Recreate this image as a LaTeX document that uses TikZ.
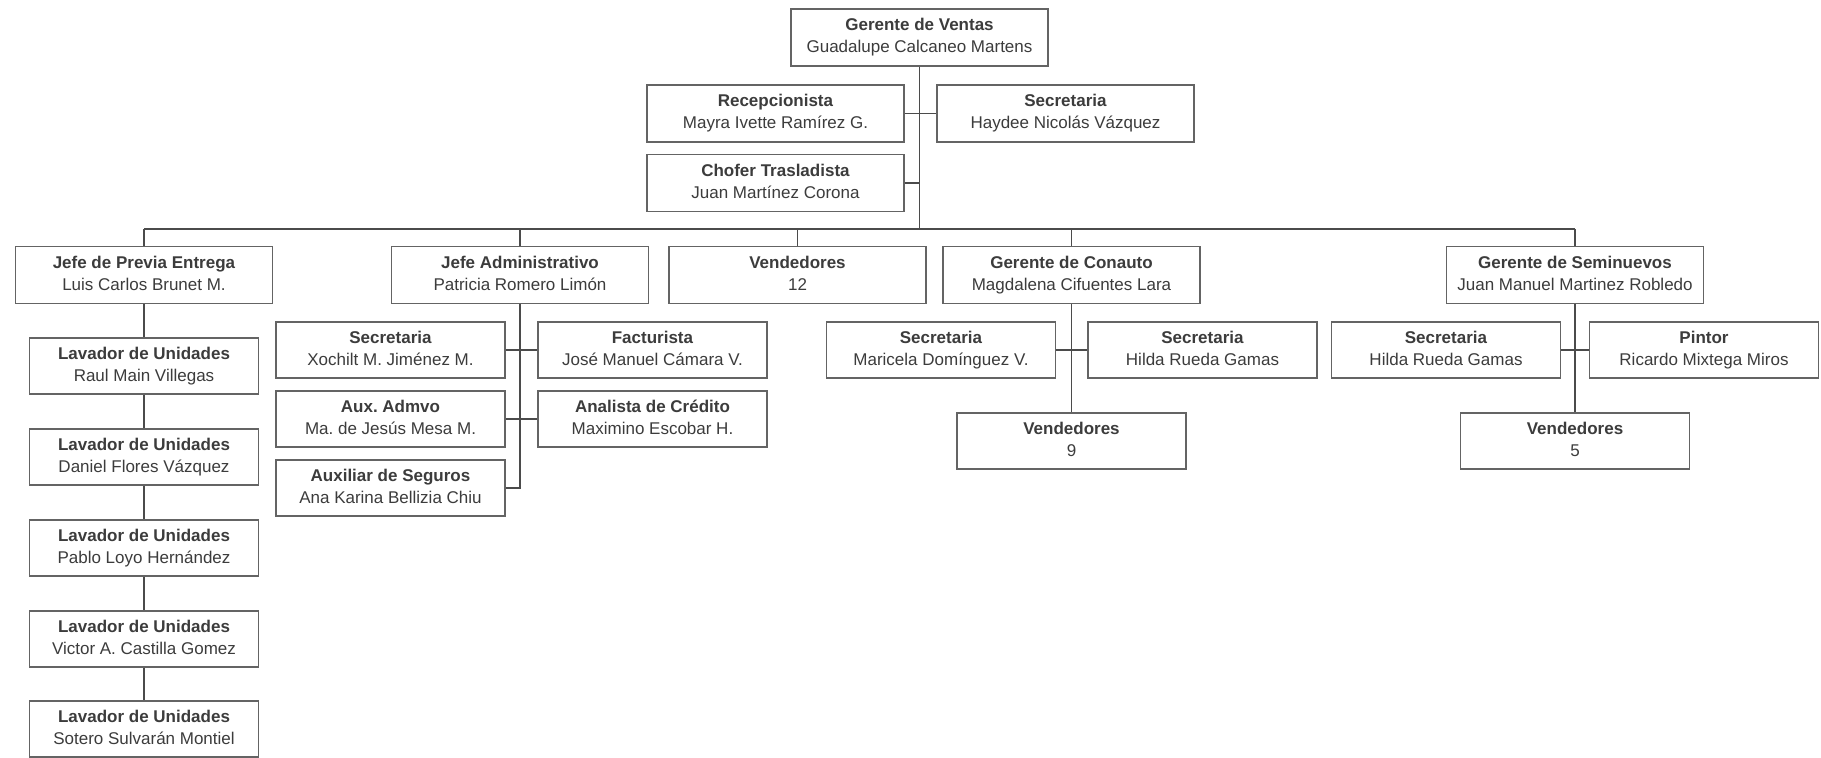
\documentclass[tikz,border=0pt]{standalone}
\usepackage{fontspec}
\setmainfont{Liberation Sans}
\frenchspacing
\definecolor{boxc}{RGB}{100,100,100}
\definecolor{linec}{RGB}{75,75,75}
\definecolor{txt}{RGB}{60,60,60}
\tikzset{
  box/.style={draw=boxc, line width=0.9pt, fill=white, minimum width=128.5pt,
    minimum height=28.5pt, align=center, inner sep=0pt, text=txt,
    font=\fontsize{8.5}{11}\selectfont},
  sub/.style={box, minimum width=114.5pt, minimum height=28pt},
  conn/.style={draw=linec, line width=0.8pt},
}
\newcommand{\ent}[2]{\textbf{#1}\rule{0pt}{6.5pt}\\#2\rule[-2pt]{0pt}{2pt}}
\begin{document}
\begin{tikzpicture}[x=0.5pt,y=-0.5pt]
\useasboundingbox (0,0) rectangle (1821,758);
% top
\node[box] (gv)  at (919.5,37.5) {\ent{Gerente de Ventas}{Guadalupe Calcaneo Martens}};
\node[box] (rec) at (775.5,113.5) {\ent{Recepcionista}{Mayra Ivette Ramírez G.}};
\node[box] (sec) at (1065.5,113.5){\ent{Secretaria}{Haydee Nicolás Vázquez}};
\node[box] (cho) at (775.5,183)  {\ent{Chofer Trasladista}{Juan Martínez Corona}};
% level 2
\node[box] (jpe) at (144,275)    {\ent{Jefe de Previa Entrega}{Luis Carlos Brunet M.}};
\node[box] (ja)  at (520,275)    {\ent{Jefe Administrativo}{Patricia Romero Limón}};
\node[box] (v12) at (797.5,275)  {\ent{Vendedores}{12}};
\node[box] (gc)  at (1071.5,275) {\ent{Gerente de Conauto}{Magdalena Cifuentes Lara}};
\node[box] (gs)  at (1575,275)   {\ent{Gerente de Seminuevos}{Juan Manuel Martinez Robledo}};
% lavadores
\node[sub] (l1) at (144,366) {\ent{Lavador de Unidades}{Raul Main Villegas}};
\node[sub] (l2) at (144,457) {\ent{Lavador de Unidades}{Daniel Flores Vázquez}};
\node[sub] (l3) at (144,548) {\ent{Lavador de Unidades}{Pablo Loyo Hernández}};
\node[sub] (l4) at (144,639) {\ent{Lavador de Unidades}{Victor A. Castilla Gomez}};
\node[sub] (l5) at (144,729) {\ent{Lavador de Unidades}{Sotero Sulvarán Montiel}};
% admin
\node[sub] (xo)  at (390.5,350)  {\ent{Secretaria}{Xochilt M. Jiménez M.}};
\node[sub] (aux) at (390.5,419)  {\ent{Aux. Admvo}{Ma. de Jesús Mesa M.}};
\node[sub] (seg) at (390.5,488)  {\ent{Auxiliar de Seguros}{Ana Karina Bellizia Chiu}};
\node[sub] (fac) at (652.5,350)  {\ent{Facturista}{José Manuel Cámara V.}};
\node[sub] (ana) at (652.5,419)  {\ent{Analista de Crédito}{Maximino Escobar H.}};
% conauto
\node[sub] (mar) at (941,350)    {\ent{Secretaria}{Maricela Domínguez V.}};
\node[sub] (hil) at (1202.5,350) {\ent{Secretaria}{Hilda Rueda Gamas}};
\node[sub] (v9)  at (1071.5,441) {\ent{Vendedores}{9}};
% seminuevos
\node[sub] (hil2) at (1446,350)  {\ent{Secretaria}{Hilda Rueda Gamas}};
\node[sub] (pin)  at (1704,350)  {\ent{Pintor}{Ricardo Mixtega Miros}};
\node[sub] (v5)   at (1575,441)  {\ent{Vendedores}{5}};
% connectors
\coordinate (bj) at (919.5,229);
\coordinate (busL) at (144,229);
\coordinate (busR) at (1575,229);
\draw[conn] (gv.south) -- (bj);
\draw[conn] (rec.east) -- (sec.west);
\draw[conn] (cho.east) -- (cho.east -| bj);
\draw[conn] (busL) -- (busR);
\draw[conn] (busL) -- (jpe.north);
\draw[conn] (ja.north) -- (ja.north |- bj);
\draw[conn] (v12.north) -- (v12.north |- bj);
\draw[conn] (gc.north) -- (gc.north |- bj);
\draw[conn] (busR) -- (gs.north);
\draw[conn] (jpe.south) -- (l1.north) (l1.south) -- (l2.north) (l2.south) -- (l3.north)
  (l3.south) -- (l4.north) (l4.south) -- (l5.north);
\coordinate (ae) at (520,488);
\draw[conn] (ja.south) -- (ae) -- (seg.east);
\draw[conn] (xo.east) -- (fac.west);
\draw[conn] (aux.east) -- (ana.west);
\draw[conn] (gc.south) -- (v9.north);
\draw[conn] (mar.east) -- (hil.west);
\draw[conn] (gs.south) -- (v5.north);
\draw[conn] (hil2.east) -- (pin.west);
\end{tikzpicture}
\end{document}
